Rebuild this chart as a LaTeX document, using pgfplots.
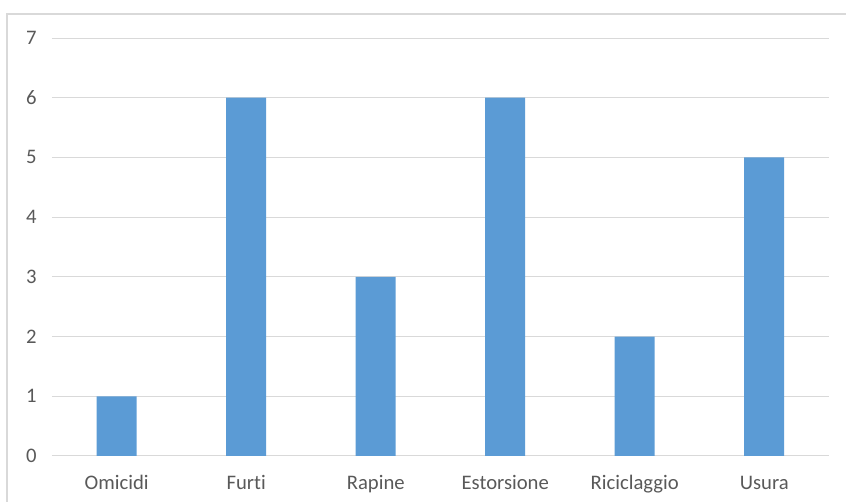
\documentclass[border=0pt]{standalone}
\usepackage{pgfplots}
\pgfplotsset{compat=1.18}
\usepackage{fontspec}
\setmainfont[Ligatures=NoCommon]{Carlito}
\definecolor{barblue}{HTML}{5B9BD5}
\definecolor{gridgray}{HTML}{D9D9D9}
\definecolor{txtgray}{HTML}{595959}
\begin{document}
\begin{tikzpicture}
\useasboundingbox (0,0) rectangle (634.5pt,376.5pt);
\draw[gridgray, line width=1.5pt] (5.25pt,0pt) -- (5.25pt,366pt) -- (640pt,366pt);
\begin{axis}[
  at={(39pt,34.5pt)}, anchor=south west,
  scale only axis,
  width=582.75pt, height=313.5pt,
  xmin=-0.5, xmax=5.5,
  ymin=0, ymax=7,
  axis line style={draw=none},
  xtick={0,1,2,3,4,5},
  xticklabels={Omicidi,Furti,Rapine,Estorsione,Riciclaggio,Usura},
  ytick={0,1,2,3,4,5,6,7},
  major tick length=0pt,
  ymajorgrids,
  grid style={gridgray, line width=0.75pt},
  ybar, bar width=30pt,
  /pgf/number format/assume math mode=true,
  tick label style={font=\fontsize{15.5}{18}\selectfont, text=txtgray},
  y tick label style={xshift=-8pt},
  x tick label style={anchor=base, yshift=-25pt},
  clip=false,
]
\addplot[fill=barblue, draw=none] coordinates {(0,1) (1,6) (2,3) (3,6) (4,2) (5,5)};
\end{axis}
\end{tikzpicture}
\end{document}
